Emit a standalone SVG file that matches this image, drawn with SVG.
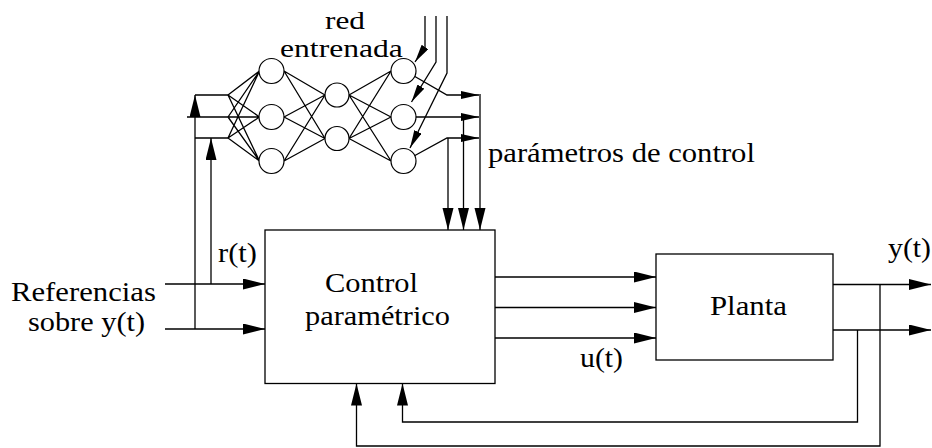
<svg xmlns="http://www.w3.org/2000/svg" width="932" height="448" viewBox="0 0 932 448">
<defs>
<marker id="ah" markerUnits="userSpaceOnUse" markerWidth="24" markerHeight="12" refX="22" refY="5.5" orient="auto"><path d="M0,0 L22,5.5 L0,11 z" fill="#000"/></marker>
<marker id="as" markerUnits="userSpaceOnUse" markerWidth="20" markerHeight="10" refX="18" refY="4" orient="auto"><path d="M0,0 L18,4 L0,8 z" fill="#000"/></marker>
</defs>
<rect width="932" height="448" fill="#fff"/>
<g id="connectors" fill="none" stroke="#000" stroke-width="1.3">
<g marker-end="url(#ah)">
<path d="M165,284 H265"/>
<path d="M165,329 H265"/>
<path d="M195,329 V95"/>
<path d="M211,284 V138"/>
<path d="M480,94 V230"/>
<path d="M463.5,117 V230"/>
<path d="M448,138 V230"/>
<path d="M495,277 H656"/>
<path d="M495,307.5 H656"/>
<path d="M495,338 H656"/>
<path d="M833,284.5 H931"/>
<path d="M833,330 H931"/>
<path d="M880,284.5 V446 H356.5 V383.5"/>
<path d="M857.5,330 V422 H402.5 V383.5"/>
</g>
<g marker-end="url(#as)">
<path d="M414,76 L447,95 H479"/>
<path d="M416,117 H479"/>
<path d="M414,156 L447,138 H479"/>
<path d="M425,16 V47 L415,62"/>
<path d="M436,16 V62 L411.5,102"/>
<path d="M447,16 V73 L410,148"/>
</g>
<path d="M195,95 H228 M187,117 H228 M195,138 H228"/>
<path d="M228,95 L259.5,71 M228,95 L259.5,117 M228,95 L259.5,161 M228,117 L259.5,71 M228,117 L259.5,117 M228,117 L259.5,161 M228,138 L259.5,71 M228,138 L259.5,117 M228,138 L259.5,161"/>
<path d="M284,71 L325,95 M284,71 L325,138.5 M284,117 L325,95 M284,117 L325,138.5 M284,161 L325,95 M284,161 L325,138.5"/>
<path d="M349,95 L391,71 M349,95 L391,117 M349,95 L391,161 M349,138.5 L391,71 M349,138.5 L391,117 M349,138.5 L391,161"/>
</g>
<g id="nn" fill="#fff" stroke="#000" stroke-width="1.2">
<circle cx="271.5" cy="71" r="12.5"/>
<circle cx="271.5" cy="117" r="12.5"/>
<circle cx="271.5" cy="161" r="12.5"/>
<circle cx="337" cy="95" r="12"/>
<circle cx="337" cy="138.5" r="12"/>
<circle cx="403.5" cy="71" r="12.5"/>
<circle cx="403.5" cy="117" r="12.5"/>
<circle cx="403.5" cy="161" r="12.5"/>
</g>
<g id="nn-label">
<text font-size="25" style="font-family:'Liberation Serif',serif" font-family="Liberation Serif, serif" transform="translate(325,28.5) scale(1.25,1)">red</text>
<text font-size="25" style="font-family:'Liberation Serif',serif" font-family="Liberation Serif, serif" transform="translate(280,56.5) scale(1.265,1)">entrenada</text>
</g>
<g id="control">
<rect x="265" y="230" width="230" height="153.5" fill="#fff" stroke="#000" stroke-width="1.3"/>
<text font-size="28" style="font-family:'Liberation Serif',serif" font-family="Liberation Serif, serif" transform="translate(325,292) scale(1.087,1)">Control</text>
<text font-size="28" style="font-family:'Liberation Serif',serif" font-family="Liberation Serif, serif" transform="translate(305,325) scale(1.085,1)">paramétrico</text>
</g>
<g id="planta">
<rect x="656" y="254" width="177" height="106" fill="#fff" stroke="#000" stroke-width="1.3"/>
<text font-size="28" style="font-family:'Liberation Serif',serif" font-family="Liberation Serif, serif" transform="translate(710,315) scale(1.1,1)">Planta</text>
</g>
<g id="labels">
<text font-size="28" style="font-family:'Liberation Serif',serif" font-family="Liberation Serif, serif" transform="translate(488,162) scale(1.094,1)">parámetros de control</text>
<text font-size="28" style="font-family:'Liberation Serif',serif" font-family="Liberation Serif, serif" transform="translate(218,262) scale(1.09,1)">r(t)</text>
<text font-size="28" style="font-family:'Liberation Serif',serif" font-family="Liberation Serif, serif" transform="translate(11,301) scale(1.097,1)">Referencias</text>
<text font-size="28" style="font-family:'Liberation Serif',serif" font-family="Liberation Serif, serif" transform="translate(28,331) scale(1.083,1)">sobre y(t)</text>
<text font-size="28" style="font-family:'Liberation Serif',serif" font-family="Liberation Serif, serif" transform="translate(580,367) scale(1.064,1)">u(t)</text>
<text font-size="28" style="font-family:'Liberation Serif',serif" font-family="Liberation Serif, serif" transform="translate(888,257) scale(1.064,1)">y(t)</text>
</g>
</svg>
